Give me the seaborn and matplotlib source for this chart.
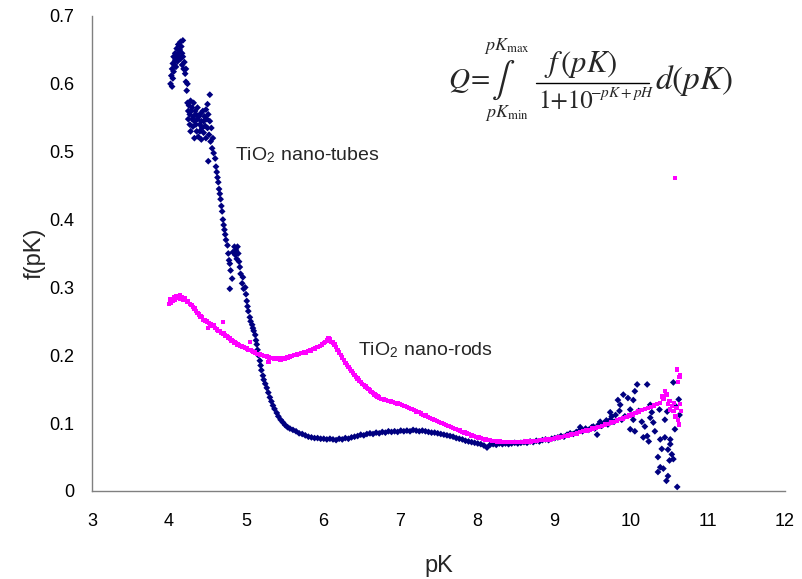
import matplotlib
matplotlib.use("Agg")
import matplotlib.pyplot as plt
import numpy as np
import pandas as pd
import seaborn as sns

# TiO2 nano-tubes: pK, f(pK)
tubes_pk = [
    4.02, 4.03, 4.04, 4.04, 4.05, 4.05, 4.06, 4.06, 4.07, 4.08, 4.08, 4.09, 4.10, 4.10,
    4.11, 4.12, 4.12, 4.13, 4.14, 4.15, 4.15, 4.16, 4.17, 4.17, 4.18, 4.18, 4.19, 4.20,
    4.21, 4.22, 4.22, 4.23, 4.24,
    4.24, 4.25, 4.25, 4.26, 4.27, 4.27, 4.28, 4.28, 4.29, 4.30, 4.30, 4.31, 4.32, 4.32,
    4.33, 4.33, 4.34, 4.35, 4.35, 4.36, 4.37, 4.37, 4.38, 4.39, 4.40, 4.40, 4.41, 4.42,
    4.42, 4.43, 4.44, 4.45, 4.45, 4.46, 4.47, 4.48, 4.48, 4.49, 4.50, 4.50, 4.51, 4.52,
    4.53, 4.53, 4.54, 4.55, 4.56, 4.57, 4.58, 4.51,
    4.60, 4.61, 4.62, 4.63, 4.64, 4.65, 4.66, 4.67, 4.68, 4.69, 4.70, 4.71, 4.72, 4.73,
    4.74, 4.76, 4.77, 4.78, 4.79, 4.79, 4.80, 4.82, 4.83, 4.85, 4.86, 4.87, 4.88, 4.89,
    4.90, 4.91, 4.92, 4.93, 4.95, 4.96, 4.97, 4.99, 5.00, 5.01, 5.02, 5.03, 5.05, 5.06,
    5.08, 5.09, 5.10, 5.12, 5.13, 5.14, 5.15, 5.16, 5.18, 5.19, 5.20, 5.22, 5.23, 5.25,
    5.27, 5.29, 5.31, 5.33, 5.35, 5.37, 5.40, 5.42, 5.45, 5.48, 5.51, 5.54, 5.57, 5.61,
    5.65, 5.69, 5.73, 5.77, 5.81, 5.85, 5.89, 5.93, 5.97, 6.01, 6.05, 6.09, 6.13, 6.17,
    6.21, 6.25, 6.29, 6.33, 6.37, 6.41, 6.45, 6.49, 6.53, 6.57, 6.61, 6.65, 6.69, 6.73,
    6.77, 6.81, 6.85, 6.89, 6.93, 6.97, 7.01, 7.05, 7.09, 7.13, 7.17, 7.21, 7.25, 7.29,
    7.33, 7.37, 7.41, 7.45, 7.49, 7.53, 7.57, 7.61, 7.65, 7.69, 7.73, 7.77, 7.81, 7.85,
    7.89, 7.93, 7.97, 8.01, 8.05, 8.09, 8.13, 8.17, 8.21, 8.25, 8.29, 8.33, 8.37, 8.41,
    8.45, 8.49, 8.53, 8.57, 8.61, 8.65, 8.69, 8.73, 8.77, 8.81, 8.85, 8.89, 8.93, 8.97,
    9.01, 9.05, 9.09, 9.13, 9.17, 9.21, 9.25, 9.29, 9.33, 9.34, 9.37, 9.41, 9.45, 9.49,
    9.51, 9.53, 9.56, 9.58, 9.60, 9.62, 9.65, 9.68, 9.70, 9.73, 9.73, 9.75, 9.78, 9.80,
    9.83, 9.85, 9.86, 9.88, 9.90, 9.92, 9.96, 9.99, 9.99, 10.01, 10.03, 10.03, 10.05, 10.05,
    10.08, 10.10, 10.14, 10.16, 10.18, 10.21, 10.21, 10.23, 10.25, 10.25, 10.27, 10.29, 10.31, 10.35,
    10.35, 10.37, 10.38, 10.38, 10.40, 10.42, 10.44, 10.44, 10.46, 10.47, 10.48, 10.48, 10.50, 10.51,
    10.51, 10.53, 10.55, 10.55, 10.57, 10.58, 10.60, 10.62, 10.63,
]
tubes_f = [
    0.600, 0.612, 0.622, 0.596, 0.630, 0.608, 0.640, 0.618, 0.628, 0.635, 0.645, 0.625, 0.640, 0.652,
    0.633, 0.645, 0.658, 0.640, 0.650, 0.662, 0.637, 0.655, 0.645, 0.628, 0.664, 0.640, 0.622, 0.632,
    0.615, 0.603, 0.622, 0.590, 0.600,
    0.572, 0.560, 0.548, 0.568, 0.555, 0.540, 0.575, 0.530, 0.560, 0.548, 0.565, 0.537, 0.572, 0.552,
    0.545, 0.520, 0.560, 0.540, 0.555, 0.530, 0.548, 0.565, 0.522, 0.552, 0.540, 0.530, 0.556, 0.545,
    0.518, 0.535, 0.560, 0.545, 0.528, 0.552, 0.538, 0.562, 0.520, 0.548, 0.535, 0.570, 0.555, 0.525,
    0.584, 0.545, 0.515, 0.535, 0.505, 0.520, 0.498, 0.486,
    0.490, 0.478, 0.470, 0.462, 0.455, 0.445, 0.438, 0.430, 0.420, 0.412, 0.400, 0.392, 0.385, 0.378,
    0.370, 0.362, 0.350, 0.340, 0.335, 0.298, 0.325, 0.313, 0.352, 0.360, 0.348, 0.355, 0.342, 0.360,
    0.350, 0.338, 0.330, 0.320, 0.306, 0.315, 0.298, 0.300, 0.290, 0.280, 0.272, 0.265, 0.256, 0.250,
    0.245, 0.240, 0.236, 0.230, 0.222, 0.216, 0.208, 0.200, 0.192, 0.185, 0.178, 0.170, 0.164, 0.158,
    0.152, 0.145, 0.138, 0.132, 0.126, 0.121, 0.115, 0.110, 0.105, 0.101, 0.097, 0.094, 0.092, 0.090,
    0.088, 0.085, 0.084, 0.082, 0.080, 0.079, 0.078, 0.078, 0.077, 0.077, 0.076, 0.077, 0.076, 0.075,
    0.077, 0.076, 0.078, 0.077, 0.079, 0.080, 0.081, 0.083, 0.082, 0.084, 0.085, 0.084, 0.086, 0.085,
    0.087, 0.086, 0.088, 0.087, 0.088, 0.087, 0.089, 0.088, 0.089, 0.088, 0.090, 0.089, 0.088, 0.089,
    0.088, 0.087, 0.086, 0.086, 0.085, 0.084, 0.083, 0.082, 0.081, 0.080, 0.078, 0.077, 0.076, 0.074,
    0.073, 0.072, 0.071, 0.070, 0.069, 0.067, 0.064, 0.068, 0.069, 0.068, 0.070, 0.069, 0.070, 0.069,
    0.070, 0.071, 0.070, 0.071, 0.072, 0.071, 0.073, 0.072, 0.074, 0.073, 0.075, 0.076, 0.075, 0.077,
    0.078, 0.079, 0.081, 0.080, 0.083, 0.085, 0.084, 0.087, 0.089, 0.094, 0.088, 0.092, 0.090, 0.094,
    0.095, 0.092, 0.083, 0.098, 0.102, 0.096, 0.100, 0.104, 0.098, 0.116, 0.105, 0.110, 0.102, 0.112,
    0.134, 0.118, 0.127, 0.105, 0.142, 0.110, 0.137, 0.120, 0.091, 0.112, 0.105, 0.134, 0.147, 0.088,
    0.157, 0.118, 0.102, 0.079, 0.095, 0.157, 0.081, 0.073, 0.108, 0.127, 0.116, 0.101, 0.088, 0.050,
    0.028, 0.120, 0.035, 0.076, 0.062, 0.033, 0.105, 0.079, 0.015, 0.117, 0.022, 0.061, 0.045, 0.076,
    0.069, 0.054, 0.047, 0.160, 0.091, 0.125, 0.006, 0.135, 0.112,
]

# TiO2 nano-rods: pK, f(pK)
rods_pk = [
    4.00, 4.01, 4.02, 4.04, 4.05, 4.07, 4.08, 4.10, 4.12, 4.14, 4.15, 4.17, 4.19, 4.21,
    4.23, 4.25, 4.27, 4.29, 4.31, 4.33, 4.35, 4.37, 4.39, 4.41, 4.43, 4.45, 4.47, 4.49,
    4.51, 4.52, 4.54, 4.56, 4.58, 4.60, 4.62, 4.64, 4.66, 4.68, 4.70, 4.71, 4.73, 4.75,
    4.77, 4.79, 4.81, 4.83, 4.85, 4.87, 4.89, 4.91, 4.93, 4.95, 4.97, 4.99, 5.01, 5.03,
    5.05, 5.06, 5.08, 5.10, 5.12, 5.15, 5.18, 5.21, 5.24, 5.27, 5.29, 5.30, 5.33, 5.36,
    5.39, 5.42, 5.45, 5.48, 5.51, 5.54, 5.57, 5.60, 5.63, 5.66, 5.69, 5.72, 5.75, 5.78,
    5.81, 5.84, 5.87, 5.90, 5.93, 5.96, 5.99, 6.01, 6.03, 6.05, 6.07, 6.09, 6.11, 6.13,
    6.15, 6.17, 6.19, 6.21, 6.23, 6.25, 6.27, 6.29, 6.31, 6.33, 6.35, 6.37, 6.39, 6.41,
    6.43, 6.45, 6.47, 6.49, 6.51, 6.53, 6.55, 6.57, 6.59, 6.61, 6.63, 6.65, 6.67, 6.69,
    6.71, 6.73, 6.76, 6.79, 6.82, 6.85, 6.88, 6.91, 6.94, 6.97, 7.00, 7.03, 7.06, 7.09,
    7.12, 7.15, 7.18, 7.21, 7.24, 7.27, 7.30, 7.33, 7.36, 7.39, 7.42, 7.45, 7.48, 7.51,
    7.54, 7.57, 7.60, 7.63, 7.66, 7.69, 7.72, 7.75, 7.78, 7.81, 7.84, 7.87, 7.90, 7.93,
    7.96, 7.99, 8.02, 8.05, 8.08, 8.11, 8.14, 8.17, 8.20, 8.23, 8.26, 8.30, 8.34, 8.38,
    8.42, 8.46, 8.50, 8.54, 8.58, 8.62, 8.66, 8.70, 8.74, 8.78, 8.82, 8.86, 8.90, 8.94,
    8.98, 9.02, 9.06, 9.10, 9.14, 9.18, 9.22, 9.26, 9.30, 9.34, 9.38, 9.42, 9.46, 9.50,
    9.54, 9.58, 9.62, 9.66, 9.70, 9.74, 9.78, 9.82, 9.86, 9.90, 9.94, 9.98, 10.02, 10.06,
    10.10, 10.14, 10.18, 10.22, 10.26, 10.30, 10.34, 10.38, 10.40, 10.42, 10.44, 10.46, 10.48, 10.50,
    10.51, 10.53, 10.55, 10.56, 10.57, 10.58, 10.59, 10.60, 10.61, 10.61, 10.62, 10.63, 10.64, 10.64,
    10.65,
]
rods_f = [
    0.276, 0.282, 0.278, 0.283, 0.280, 0.286, 0.282, 0.287, 0.284, 0.288, 0.283, 0.286, 0.282, 0.284,
    0.279, 0.280, 0.276, 0.274, 0.271, 0.269, 0.265, 0.262, 0.260, 0.257, 0.256, 0.252, 0.251, 0.250,
    0.240, 0.248, 0.246, 0.243, 0.244, 0.240, 0.238, 0.236, 0.236, 0.233, 0.249, 0.232, 0.229, 0.228,
    0.226, 0.225, 0.222, 0.221, 0.219, 0.218, 0.216, 0.215, 0.214, 0.213, 0.212, 0.211, 0.210, 0.208,
    0.220, 0.208, 0.206, 0.205, 0.204, 0.202, 0.201, 0.200, 0.199, 0.198, 0.190, 0.197, 0.196, 0.195,
    0.196, 0.195, 0.194, 0.196, 0.195, 0.197, 0.198, 0.199, 0.200, 0.201, 0.202, 0.203, 0.204, 0.204,
    0.206, 0.207, 0.209, 0.210, 0.212, 0.214, 0.216, 0.218, 0.220, 0.222, 0.225, 0.223, 0.220, 0.219,
    0.216, 0.212, 0.208, 0.204, 0.200, 0.197, 0.193, 0.189, 0.186, 0.183, 0.180, 0.177, 0.174, 0.171,
    0.168, 0.166, 0.163, 0.161, 0.158, 0.156, 0.154, 0.152, 0.150, 0.148, 0.146, 0.144, 0.142, 0.141,
    0.139, 0.138, 0.136, 0.135, 0.134, 0.133, 0.132, 0.131, 0.130, 0.129, 0.128, 0.127, 0.125, 0.124,
    0.122, 0.121, 0.119, 0.117, 0.116, 0.114, 0.112, 0.111, 0.109, 0.108, 0.106, 0.105, 0.103, 0.102,
    0.100, 0.099, 0.097, 0.096, 0.094, 0.093, 0.091, 0.090, 0.089, 0.087, 0.086, 0.085, 0.084, 0.082,
    0.081, 0.080, 0.079, 0.078, 0.077, 0.076, 0.075, 0.075, 0.074, 0.074, 0.073, 0.073, 0.072, 0.072,
    0.072, 0.072, 0.072, 0.072, 0.072, 0.073, 0.073, 0.073, 0.074, 0.074, 0.075, 0.075, 0.076, 0.076,
    0.077, 0.078, 0.079, 0.080, 0.081, 0.082, 0.083, 0.084, 0.085, 0.087, 0.088, 0.089, 0.090, 0.092,
    0.093, 0.094, 0.096, 0.098, 0.099, 0.101, 0.102, 0.104, 0.106, 0.107, 0.109, 0.111, 0.113, 0.115,
    0.117, 0.119, 0.121, 0.122, 0.124, 0.126, 0.128, 0.130, 0.139, 0.136, 0.147, 0.142, 0.128, 0.133,
    0.120, 0.125, 0.118, 0.130, 0.461, 0.110, 0.122, 0.179, 0.161, 0.105, 0.098, 0.168, 0.171, 0.128,
    0.118,
]

x_ticks = [3, 4, 5, 6, 7, 8, 9, 10, 11, 12]
y_ticks = [0, 0.1, 0.2, 0.3, 0.4, 0.5, 0.6, 0.7]
y_tick_labels = ["0", "0.1", "0.2", "0.3", "0.4", "0.5", "0.6", "0.7"]

tubes = pd.DataFrame({"pK": tubes_pk, "f": tubes_f})
rods = pd.DataFrame({"pK": rods_pk, "f": rods_f})

sns.set_theme(style="white")
plt.rcParams["font.family"] = ["Liberation Sans", "DejaVu Sans"]
plt.rcParams["mathtext.fontset"] = "stix"
plt.rcParams["mathtext.default"] = "it"

W, H = 802, 579
fig = plt.figure(figsize=(W / 100, H / 100), dpi=100)
ax = fig.add_axes([0.1147, 0.152, 0.8641, 0.8204])

sns.scatterplot(data=tubes, x="pK", y="f", ax=ax, marker="D", s=12,
                color="#000080", edgecolor="none", linewidth=0, legend=False)
sns.scatterplot(data=rods, x="pK", y="f", ax=ax, marker="s", s=10,
                color="#FF00FF", edgecolor="none", linewidth=0, legend=False)

ax.set_xlim(3, 12)
ax.set_ylim(0, 0.7)
ax.set_xticks(x_ticks)
ax.set_yticks(y_ticks)
ax.set_yticklabels(y_tick_labels)

for side in ("top", "right"):
    ax.spines[side].set_visible(False)
for side in ("left", "bottom"):
    ax.spines[side].set_color("#808080")
    ax.spines[side].set_linewidth(1.0)

ax.tick_params(axis="both", direction="in", length=6, width=1, color="#808080",
               labelsize=13, labelcolor="black")
ax.tick_params(axis="x", pad=16)
ax.tick_params(axis="y", pad=13)

ax.set_xlabel("pK", fontsize=17, labelpad=18)
ax.set_ylabel("f(pK)", fontsize=17, labelpad=2)

# series labels
ax.text(4.86, 0.495, r"TiO$_\mathregular{2}$ nano-tubes", fontsize=14, va="center", ha="left")
ax.text(6.45, 0.208, r"TiO$_\mathregular{2}$ nano-rods", fontsize=14, va="center", ha="left")


# integral expression for Q, laid out piece by piece in pixel positions
def put(x, y, s, **kw):
    fig.text(x / W, 1 - y / H, s, **kw)


put(448, 81, r"$Q$", fontsize=21, ha="left", va="center")
put(471, 80, "=", fontsize=20, family="STIXGeneral", ha="left", va="center")
put(503, 80, r"$\int$", fontsize=25, ha="center", va="center")
put(507, 46, r"$pK_{\mathrm{max}}$", fontsize=13, ha="center", va="center")
put(507, 113, r"$pK_{\mathrm{min}}$", fontsize=13, ha="center", va="center")
put(581, 65, r"$f\,(pK)$", fontsize=22, ha="center", va="center")
fig.add_artist(plt.Line2D([536 / W, 649 / W], [1 - 83 / H, 1 - 83 / H],
                          color="black", linewidth=1.0))
put(538, 102, "1+10", fontsize=18, family="STIXGeneral", ha="left", va="center")
put(590, 93, r"$-pK+pH$", fontsize=11, ha="left", va="center")
put(655, 80, r"$d(pK)$", fontsize=24, ha="left", va="center")

fig.savefig("out.png", dpi=100)
